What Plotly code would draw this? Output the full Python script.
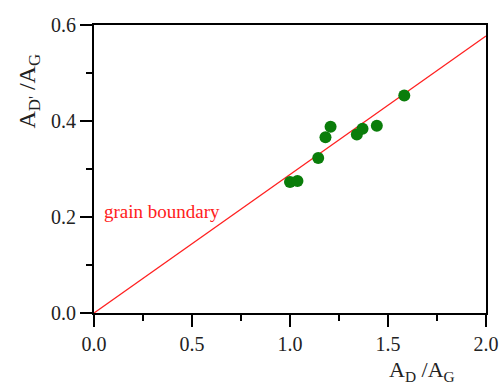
import plotly.graph_objects as go

# Data
ad_ag = [1.00, 1.038, 1.144, 1.181, 1.207, 1.341, 1.370, 1.443, 1.583]
adp_ag = [0.273, 0.275, 0.323, 0.366, 0.388, 0.372, 0.384, 0.390, 0.453]

line_x = [0.0, 2.0]
line_y = [0.0, 0.577]

x_ticks = [0.0, 0.5, 1.0, 1.5, 2.0]
x_labels = ["0.0", "0.5", "1.0", "1.5", "2.0"]
y_ticks = [0.0, 0.2, 0.4, 0.6]
y_labels = ["0.0", "0.2", "0.4", "0.6"]

font_family = "Liberation Serif, Times New Roman, serif"

fig = go.Figure()
fig.add_trace(go.Scatter(x=line_x, y=line_y, mode="lines",
                         line=dict(color="#ff2020", width=1.3),
                         showlegend=False, hoverinfo="skip"))
fig.add_trace(go.Scatter(x=ad_ag, y=adp_ag, mode="markers",
                         marker=dict(color="#0a7d0a", size=12, line=dict(width=0)),
                         showlegend=False))

fig.add_annotation(x=0.04, y=0.211, xref="x", yref="y", text="grain boundary",
                   showarrow=False, xanchor="left", yanchor="middle",
                   font=dict(family=font_family, size=19, color="#ff2020"))

fig.add_annotation(x=-0.165, y=0.77, xref="paper", yref="paper",
                   text="A<sub>D'</sub> /A<sub>G</sub>", textangle=-90,
                   showarrow=False, xanchor="center", yanchor="middle",
                   font=dict(family=font_family, size=24, color="#222"))
fig.add_annotation(x=0.837, y=-0.2, xref="paper", yref="paper",
                   text="A<sub>D</sub> /A<sub>G</sub>",
                   showarrow=False, xanchor="center", yanchor="middle",
                   font=dict(family=font_family, size=22, color="#222"))

axis_common = dict(showgrid=False, zeroline=False, showline=True, automargin=False,
                   linecolor="black", linewidth=1.8, mirror=True,
                   ticks="outside", ticklen=12, tickwidth=1.5, tickcolor="black",
                   tickfont=dict(family=font_family, size=20, color="#222"))

fig.update_xaxes(range=[0, 2.0], tickvals=x_ticks, ticktext=x_labels,
                 minor=dict(tickvals=[0.25, 0.75, 1.25, 1.75], ticklen=6,
                            tickwidth=1.5, tickcolor="black", ticks="outside"),
                 **axis_common)
fig.update_yaxes(range=[0, 0.6], tickvals=y_ticks, ticktext=y_labels,
                 minor=dict(tickvals=[0.1, 0.3, 0.5], ticklen=6,
                            tickwidth=1.5, tickcolor="black", ticks="outside"),
                 **axis_common)

fig.update_layout(width=500, height=383,
                  margin=dict(l=94, r=14, t=25, b=70),
                  plot_bgcolor="white", paper_bgcolor="white")

fig.write_html("out.html", config={"displayModeBar": False},
               post_script="document.body.style.margin='0';document.body.style.overflow='hidden';")
